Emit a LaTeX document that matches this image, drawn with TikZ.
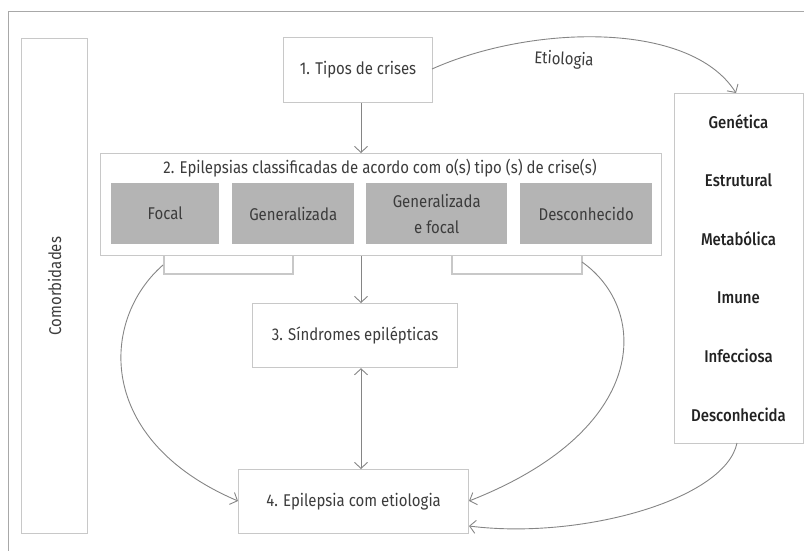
\documentclass[tikz,border=0pt]{standalone}
\usepackage{fontspec}
\setmainfont{Fira Sans}[FakeStretch=0.88, BoldFont={Fira Sans Medium}]
\usetikzlibrary{arrows.meta}
\definecolor{framegray}{HTML}{A8A8A8}
\definecolor{boxgray}{HTML}{C8C8C8}
\definecolor{fillgray}{HTML}{B4B4B4}
\definecolor{arrgray}{HTML}{858585}
\definecolor{txt}{HTML}{3C3C3C}
\definecolor{txtdark}{HTML}{222222}
\tikzset{
  box/.style={draw=boxgray, line width=1.2pt, fill=white, inner sep=0pt,
    align=center, text=txt, font=\fontsize{17}{20}\selectfont, anchor=north west},
  gbox/.style={fill=fillgray, inner sep=0pt, align=center, text=txt,
    font=\fontsize{17}{26}\selectfont, anchor=north west},
  lbl/.style={inner sep=0pt, text=txt, font=\fontsize{17}{20}\selectfont},
  etiitem/.style={inner sep=0pt, text=txtdark, font=\fontsize{17}{20}\selectfont\bfseries},
  bracket/.style={draw=boxgray, line width=1.2pt},
  conn/.style={draw=arrgray, line width=0.9pt, -{Straight Barb[length=6pt,width=13pt]}},
  dconn/.style={draw=arrgray, line width=0.9pt, {Straight Barb[length=6pt,width=13pt]}-{Straight Barb[length=6pt,width=13pt]}}
}
\begin{document}
\begin{tikzpicture}[x=1pt,y=-1pt]
\useasboundingbox (0,0) rectangle (804,551);

% outer frame (only top and left edges lie inside the page)
\draw[framegray, line width=1pt] (8,560) -- (8,12) -- (810,12);

% comorbidities column
\node[box, minimum width=66pt, minimum height=495pt] (com) at (21,38) {};
\node[lbl, rotate=90] (comtxt) at (com.center) {Comorbidades};

% seizure types
\node[box, minimum width=149pt, minimum height=65pt] (tipos) at (283,37) {1. Tipos de crises};

% classified epilepsies
\node[box, minimum width=561pt, minimum height=102pt] (ep) at (100,153) {};
\node[lbl] (eptitle) at (380,168) {2. Epilepsias classificadas de acordo com o(s) tipo (s) de crise(s)};
\node[gbox, minimum width=108pt, minimum height=61pt] (focal) at (111,183) {Focal};
\node[gbox, minimum width=122pt, minimum height=61pt] (gen) at (232,183) {Generalizada};
\node[gbox, minimum width=141pt, minimum height=61pt] (gef) at (366,183) {Generalizada\\e focal};
\node[gbox, minimum width=132pt, minimum height=61pt] (desc) at (520,183) {Desconhecido};

% syndromes and etiology-based epilepsy
\node[box, minimum width=205pt, minimum height=64pt] (sind) at (252,303) {3. Síndromes epilépticas};
\node[box, minimum width=230pt, minimum height=64pt] (epet) at (238,469) {4. Epilepsia com etiologia};

% etiology column
\node[box, minimum width=129pt, minimum height=350pt] (etio) at (674,93) {};
\node[etiitem] (e1) at (738.5,122) {Genética};
\node[etiitem] (e2) at (738.5,180) {Estrutural};
\node[etiitem] (e3) at (738.5,239) {Metabólica};
\node[etiitem] (e4) at (738.5,298) {Imune};
\node[etiitem] (e5) at (738.5,356) {Infecciosa};
\node[etiitem] (e6) at (738.5,415) {Desconhecida};

% brackets under the grey boxes
\coordinate (bl1) at (164,255);
\coordinate (bl2) at (293,255);
\coordinate (br1) at (452,255);
\coordinate (br2) at (582,255);
\draw[bracket] (bl1) -- ++(0,19) -| (bl2);
\draw[bracket] (br1) -- ++(0,19) -| (br2);

% vertical axis of the flow
\coordinate (ax) at (361,0);
\draw[conn] (tipos.south -| ax) -- (ep.north -| ax);
\draw[conn] (ep.south -| ax) -- (sind.north -| ax);
\draw[dconn] (sind.south -| ax) -- (epet.north -| ax);

% curved connectors
\coordinate (lstart) at (163,265);
\coordinate (rstart) at (582,262);
\coordinate (lend) at (238,501);
\coordinate (rend) at (469,501);
\coordinate (eend) at (469,526);
\coordinate (tstart) at (432,69);
\coordinate (tend) at (736,93);
\coordinate (estart) at (737,443);
\draw[conn] (lstart) .. controls (100,320) and (95,440) .. (lend);
\draw[conn] (rstart) .. controls (650,310) and (650,430) .. (rend);
\draw[conn] (tstart) .. controls (530,25) and (690,20) .. (tend);
\draw[conn] (estart) .. controls (725,500) and (580,540) .. (eend);
\node[lbl, rotate=-3] (etlbl) at (564,60) {Etiologia};
\end{tikzpicture}
\end{document}
